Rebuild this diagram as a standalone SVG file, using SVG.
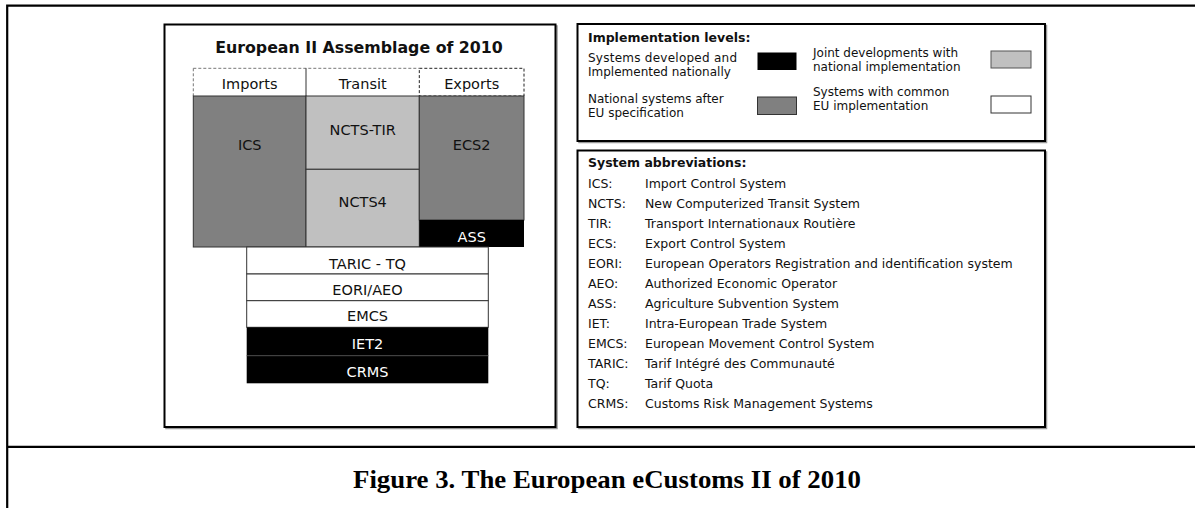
<svg xmlns="http://www.w3.org/2000/svg" width="1195" height="508" viewBox="0 0 1195 508">
<style>
.v{font-family:"DejaVu Sans",Verdana,sans-serif;fill:#111}
.lab{font-size:14.5px;text-anchor:middle}
.w{fill:#fff}
.sm{font-size:12.5px}
.lg{font-size:12px}
.b{font-weight:bold}
.panel{fill:#fff;stroke:#000;stroke-width:2}
.shadow{fill:none;stroke:#999;stroke-width:1.5}
.cell{stroke:#333;stroke-width:1}
.frame{stroke:#000;stroke-width:2.2;fill:none}
.cap{font-family:"Liberation Serif","Times New Roman",serif;font-weight:bold;font-size:26px;text-anchor:middle;fill:#000}
</style>
<rect width="1195" height="508" fill="#fff"/>
<g id="frame">
<path class="frame" d="M7.2 5.7H1195M7.2 4.6V508M7.2 446.8H1195"/>
</g>
<g id="left-panel">
<rect class="shadow" x="166" y="26" width="391" height="402.5"/>
<rect class="panel" x="164.5" y="24.5" width="391" height="402.5"/>
<text class="v b" x="359" y="53" font-size="15.8" text-anchor="middle">European II Assemblage of 2010</text>
</g>
<g id="header">
<path d="M193.3 68.3H419.3M193.3 68.3V96" fill="none" stroke="#777" stroke-width="1" stroke-dasharray="3,2"/>
<path d="M306 68.3V96" stroke="#333" stroke-width="1"/>
<rect x="419.3" y="68.3" width="104.7" height="27.7" fill="none" stroke="#222" stroke-width="1" stroke-dasharray="3,2"/>
<text class="v lab" x="249.7" y="88.5">Imports</text>
<text class="v lab" x="362.7" y="88.5">Transit</text>
<text class="v lab" x="471.7" y="88.5">Exports</text>
</g>
<g id="ICS">
<rect class="cell" x="193.3" y="96" width="112.7" height="151" fill="#808080"/>
<text class="v lab" x="249.7" y="150">ICS</text>
</g>
<g id="NCTS-TIR">
<rect class="cell" x="306" y="96" width="113.3" height="73.3" fill="#c0c0c0"/>
<text class="v lab" x="362.7" y="135">NCTS-TIR</text>
</g>
<g id="NCTS4">
<rect class="cell" x="306" y="169.3" width="113.3" height="77.7" fill="#c0c0c0"/>
<text class="v lab" x="362.7" y="207">NCTS4</text>
</g>
<g id="ECS2">
<rect class="cell" x="419.3" y="96" width="104.7" height="124" fill="#808080"/>
<text class="v lab" x="471.7" y="150">ECS2</text>
</g>
<g id="ASS">
<rect x="419.3" y="220" width="104.7" height="27" fill="#000"/>
<text class="v lab w" x="471.7" y="242">ASS</text>
</g>
<g id="TARIC-TQ">
<rect class="cell" x="246.7" y="247" width="241.6" height="27" fill="#fff"/>
<text class="v lab" x="367.5" y="268.5">TARIC - TQ</text>
</g>
<g id="EORI-AEO">
<rect class="cell" x="246.7" y="274" width="241.6" height="26.7" fill="#fff"/>
<text class="v lab" x="367.5" y="294.5">EORI/AEO</text>
</g>
<g id="EMCS">
<rect class="cell" x="246.7" y="300.7" width="241.6" height="26.6" fill="#fff"/>
<text class="v lab" x="367.5" y="321">EMCS</text>
</g>
<g id="IET2">
<rect x="246.7" y="327.3" width="241.6" height="28.4" fill="#000"/>
<text class="v lab w" x="367.5" y="348.5">IET2</text>
</g>
<g id="CRMS">
<rect x="246.7" y="355.7" width="241.6" height="27.6" fill="#000"/>
<path d="M246.7 355.7H488.3" stroke="#444" stroke-width="1"/>
<text class="v lab w" x="367.5" y="377">CRMS</text>
</g>
<g id="legend">
<rect class="shadow" x="579" y="25.5" width="467.5" height="117"/>
<rect class="panel" x="577.5" y="24" width="467.5" height="117"/>
<text class="v sm b" x="588" y="41.7">Implementation levels:</text>
<text class="v lg" x="588" y="61.5" textLength="149" lengthAdjust="spacing">Systems developed and</text>
<text class="v lg" x="588" y="75.5">Implemented nationally</text>
<rect x="757.5" y="52.5" width="39" height="17.5" fill="#000"/>
<text class="v lg" x="588" y="103">National systems after</text>
<text class="v lg" x="588" y="117">EU specification</text>
<rect class="cell" x="757.5" y="97" width="39" height="17.5" fill="#808080"/>
<text class="v lg" x="813" y="56.5">Joint developments with</text>
<text class="v lg" x="813" y="70.5">national implementation</text>
<rect x="991" y="51" width="40" height="17" fill="#c0c0c0" stroke="#555" stroke-width="1"/>
<text class="v lg" x="813" y="96">Systems with common</text>
<text class="v lg" x="813" y="110">EU implementation</text>
<rect class="cell" x="991" y="96" width="40" height="17" fill="#fff"/>
</g>
<g id="abbreviations">
<rect class="shadow" x="579" y="152" width="467.5" height="276.5"/>
<rect class="panel" x="577.5" y="150.5" width="467.5" height="276.5"/>
<text class="v sm b" x="588" y="167.3">System abbreviations:</text>
<g class="v sm">
<text x="588" y="187.5">ICS:</text><text x="645" y="187.5">Import Control System</text>
<text x="588" y="207.5">NCTS:</text><text x="645" y="207.5">New Computerized Transit System</text>
<text x="588" y="227.5">TIR:</text><text x="645" y="227.5">Transport Internationaux Routière</text>
<text x="588" y="247.5">ECS:</text><text x="645" y="247.5">Export Control System</text>
<text x="588" y="267.5">EORI:</text><text x="645" y="267.5">European Operators Registration and identification system</text>
<text x="588" y="287.5">AEO:</text><text x="645" y="287.5">Authorized Economic Operator</text>
<text x="588" y="307.5">ASS:</text><text x="645" y="307.5">Agriculture Subvention System</text>
<text x="588" y="327.5">IET:</text><text x="645" y="327.5">Intra-European Trade System</text>
<text x="588" y="347.5">EMCS:</text><text x="645" y="347.5">European Movement Control System</text>
<text x="588" y="367.5">TARIC:</text><text x="645" y="367.5">Tarif Intégré des Communauté</text>
<text x="588" y="387.5">TQ:</text><text x="645" y="387.5">Tarif Quota</text>
<text x="588" y="407.5">CRMS:</text><text x="645" y="407.5">Customs Risk Management Systems</text>
</g>
</g>
<g id="caption">
<text class="cap" x="607" y="488" textLength="508" lengthAdjust="spacingAndGlyphs">Figure 3. The European eCustoms II of 2010</text>
</g>
</svg>
